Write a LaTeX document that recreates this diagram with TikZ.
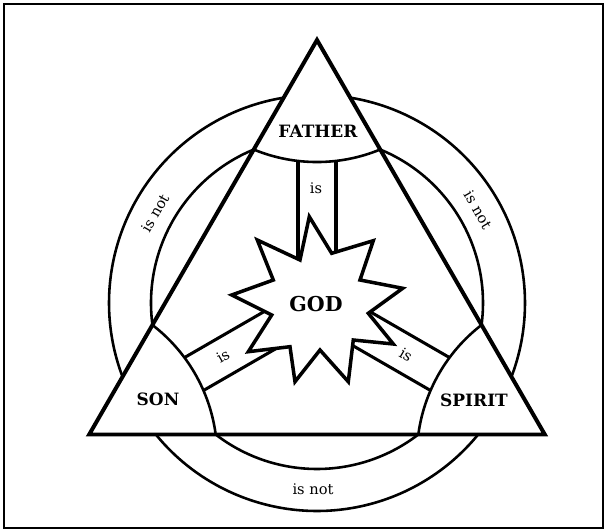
\documentclass[tikz,border=0pt]{standalone}
\usepackage{fontspec}
\setmainfont{DejaVu Serif}

\begin{document}
\begin{tikzpicture}[x=0.3mm,y=0.3mm,
    person/.style={font=\fontsize{14.5}{17}\selectfont\bfseries},
    linktext/.style={font=\fontsize{12.5}{15}\selectfont},
    ring/.style={line width=2.2pt},
    band/.style={line width=2.6pt}]
    \useasboundingbox (-317,303) rectangle (291,-228);
    \draw[line width=1.2pt] (-313,299) rectangle (286,-225);

    % the two rings, only outside the triangle
    \foreach \n in {30,150,270} {
      \draw[ring] (\n-50.8:208) arc[start angle=\n-50.8, end angle=\n+50.8, radius=208];
      \draw[ring] (\n-37.6:166) arc[start angle=\n-37.6, end angle=\n+37.6, radius=166];
    }

    % corner arcs and the bands to the centre
    \foreach \v in {90,210,330} {
      \begin{scope}[rotate=\v-90]
        \draw[ring] (-63.3,153.5) arc[start angle=247.6, end angle=292.4, radius=166];
        \draw[band] (-19,142.1) -- (-19,30);
        \draw[band] (19,142.1) -- (19,30);
      \end{scope}
    }

    % star
    \draw[line width=3pt, line join=miter, fill=white]
      (-7.7,86.3) -- (14.7,49.7) -- (56.3,62.3) -- (43,23) -- (85.7,14.7)
      -- (51.3,-10.3) -- (76.3,-41) -- (36.3,-37) -- (31.3,-78.7) -- (3,-47)
      -- (-22,-78.7) -- (-27,-43.7) -- (-68.7,-48.7) -- (-45.3,-12)
      -- (-85.3,8) -- (-43.7,23) -- (-59.7,63) -- (-17,43) -- cycle;

    % triangle
    \draw[line width=3.4pt, line join=miter]
      (0,263) -- (-227.8,-131.5) -- (227.8,-131.5) -- cycle;

    \node[person] (father) at (1,172) {FATHER};
    \node[person] (son) at (-159,-96) {SON};
    \node[person] (spirit) at (157,-97) {SPIRIT};
    \node[font=\fontsize{17.5}{20}\selectfont\bfseries] (god) at (-1,-1) {GOD};

    \node[linktext] (is-f) at (-1,115) {is};
    \node[linktext, rotate=30] (is-s) at (-94,-53) {is};
    \node[linktext, rotate=-30] (is-p) at (89,-52) {is};
    \node[linktext, rotate=60] (not-fs) at (-162,90) {is not};
    \node[linktext, rotate=-60] (not-fp) at (161,93) {is not};
    \node[linktext] (not-sp) at (-4,-186) {is not};
\end{tikzpicture}
\end{document}
